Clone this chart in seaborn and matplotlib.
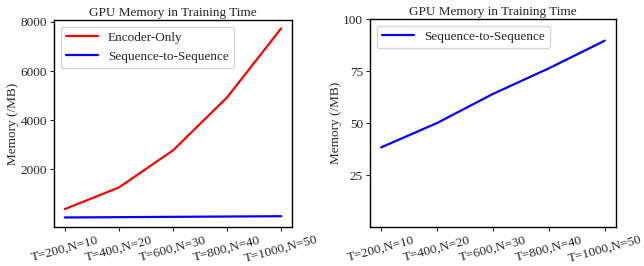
import matplotlib
matplotlib.use("Agg")
import matplotlib.pyplot as plt
import seaborn as sns
import pandas as pd

categories = ["T=200,N=10", "T=400,N=20", "T=600,N=30", "T=800,N=40", "T=1000,N=50"]
encoder_only = [380, 1260, 2770, 4930, 7740]
seq2seq = [38.3, 50.0, 64.0, 76.3, 89.6]

sns.set_style("ticks")
plt.rcParams["font.family"] = ["Liberation Serif", "DejaVu Serif"]

FS = 9.5

df = pd.DataFrame({
    "x": list(range(len(categories))) * 2,
    "y": encoder_only + seq2seq,
    "model": ["Encoder-Only"] * len(categories) + ["Sequence-to-Sequence"] * len(categories),
})

fig = plt.figure(figsize=(6.44, 2.66), dpi=100)
ax1 = fig.add_axes([54 / 644, 39 / 266, 238 / 644, 207 / 266])
ax2 = fig.add_axes([370 / 644, 39 / 266, 246 / 644, 208 / 266])

sns.lineplot(data=df, x="x", y="y", hue="model",
             palette={"Encoder-Only": "red", "Sequence-to-Sequence": "blue"},
             ax=ax1, linewidth=1.6)
ax1.set_ylim(-350, 8080)
ax1.set_yticks([2000, 4000, 6000, 8000])
ax1.legend(title=None, loc="upper left", fontsize=FS, frameon=True, handlelength=2.4)

sns.lineplot(data=df[df.model == "Sequence-to-Sequence"], x="x", y="y", color="blue",
             ax=ax2, linewidth=1.6, label="Sequence-to-Sequence")
ax2.set_ylim(0, 100)
ax2.set_yticks([25, 50, 75, 100])
ax2.legend(loc="upper left", fontsize=FS, frameon=True, handlelength=2.4)

for ax in (ax1, ax2):
    ax.set_xticks(range(len(categories)))
    ax.set_xticklabels(categories, rotation=15, fontsize=FS)
    ax.tick_params(axis="both", labelsize=FS, length=3, width=0.8, pad=2)
    ax.set_xlabel("")
    ax.set_ylabel("Memory (/MB)", fontsize=FS, labelpad=1)
    ax.set_title("GPU Memory in Training Time", fontsize=FS, pad=3)
    for s in ax.spines.values():
        s.set_color("black")
        s.set_linewidth(1.0)

fig.savefig("out.png", dpi=100)
